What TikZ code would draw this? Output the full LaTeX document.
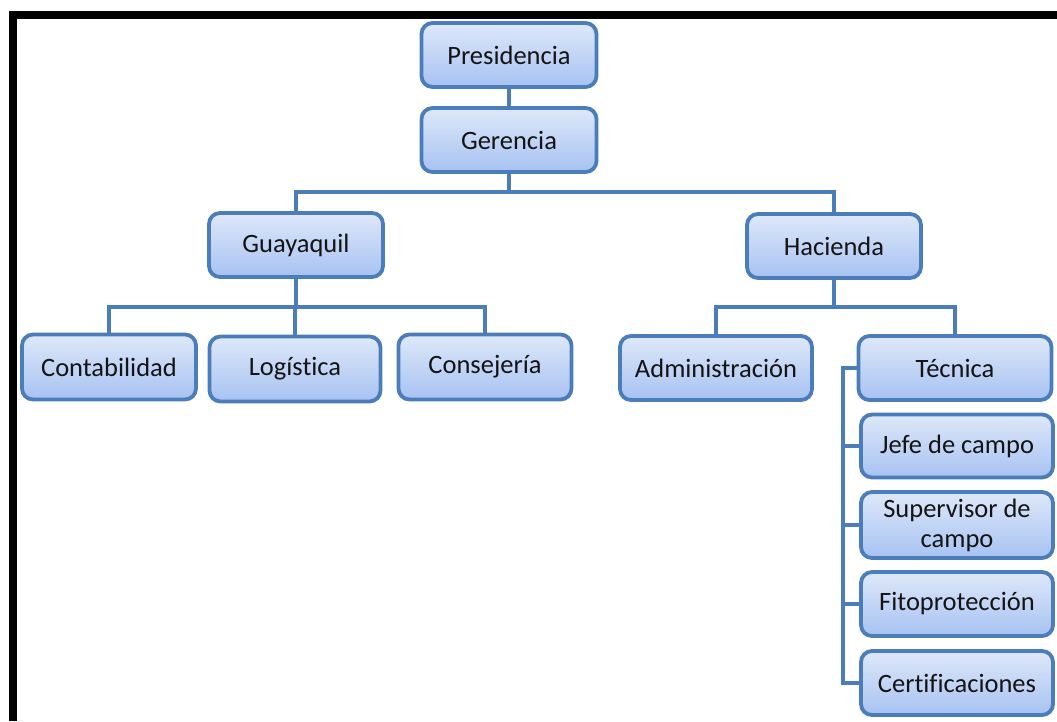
\documentclass[tikz,border=0pt]{standalone}
\usepackage{fontspec}
\setmainfont{Carlito}[Ligatures=NoCommon]
\begin{document}
\definecolor{edgeblue}{HTML}{4A7DBA}
\definecolor{boxtop}{HTML}{DEE8F9}
\definecolor{boxbot}{HTML}{A7C2F2}
\definecolor{txt}{HTML}{141414}
\begin{tikzpicture}[x=1pt,y=-1pt,
  unit/.style={draw=edgeblue, line width=3.8pt, rounded corners=11pt,
    top color=boxtop, bottom color=boxbot, text=txt,
    font=\fontsize{26.5}{30}\selectfont, align=center,
    minimum height=64pt, inner sep=2pt},
  link/.style={draw=edgeblue, line width=3.8pt}]
\useasboundingbox (0,0) rectangle (1057,721);
\fill[white] (0,0) rectangle (1057,721);
% frame bars
\fill[black] (9,11) rectangle (1057,19);
\fill[black] (9,11) rectangle (17,721);

% boxes
\node[unit, minimum width=175pt] (pres) at (509,55)  {Presidencia};
\node[unit, minimum width=175pt] (ger)  at (509,140) {Gerencia};
\node[unit, minimum width=174pt] (guay) at (296,245) {Guayaquil};
\node[unit, minimum width=174pt] (hac)  at (834,246) {Hacienda};
\node[unit, minimum width=174pt, minimum height=65pt] (cont) at (109,367) {Contabilidad};
\node[unit, minimum width=171pt, minimum height=65pt] (log)  at (295,369) {Logística};
\node[unit, minimum width=173pt, minimum height=65pt] (cons) at (485,367) {Consejería};
\node[unit, minimum width=192pt] (adm)  at (716,368) {Administración};
\node[unit, minimum width=193pt] (tec)  at (955,368) {Técnica};
\node[unit, minimum width=192pt, minimum height=63pt] (jefe) at (957,446) {Jefe de campo};
\node[unit, minimum width=192pt, minimum height=66pt] (sup)  at (957,525) {Supervisor de\\campo};
\node[unit, minimum width=192pt] (fito) at (957,604) {Fitoprotección};
\node[unit, minimum width=192pt] (cert) at (957,683) {Certificaciones};

% bus points
\coordinate (bA) at (509,192);
\coordinate (bG) at (296,307);
\coordinate (bH) at (834,307);

% connectors
\draw[link] (pres.south) -- (ger.north);
\draw[link] (ger.south) -- (bA);
\draw[link] (bA) -| (guay.north);
\draw[link] (bA) -| (hac.north);
\draw[link] (guay.south) -- (bG);
\draw[link] (bG) -| (cont.north);
\draw[link] (bG) -| (log.north);
\draw[link] (bG) -| (cons.north);
\draw[link] (hac.south) -- (bH);
\draw[link] (bH) -| (adm.north);
\draw[link] (bH) -| (tec.north);
\coordinate (tv) at (843,370);
\draw[link] (tec.west) -- (tec.west -| tv) -- (cert.west -| tv) -- (cert.west);
\foreach \n in {jefe,sup,fito}
  \draw[link] (\n.west -| tv) -- (\n.west);
\end{tikzpicture}
\end{document}
